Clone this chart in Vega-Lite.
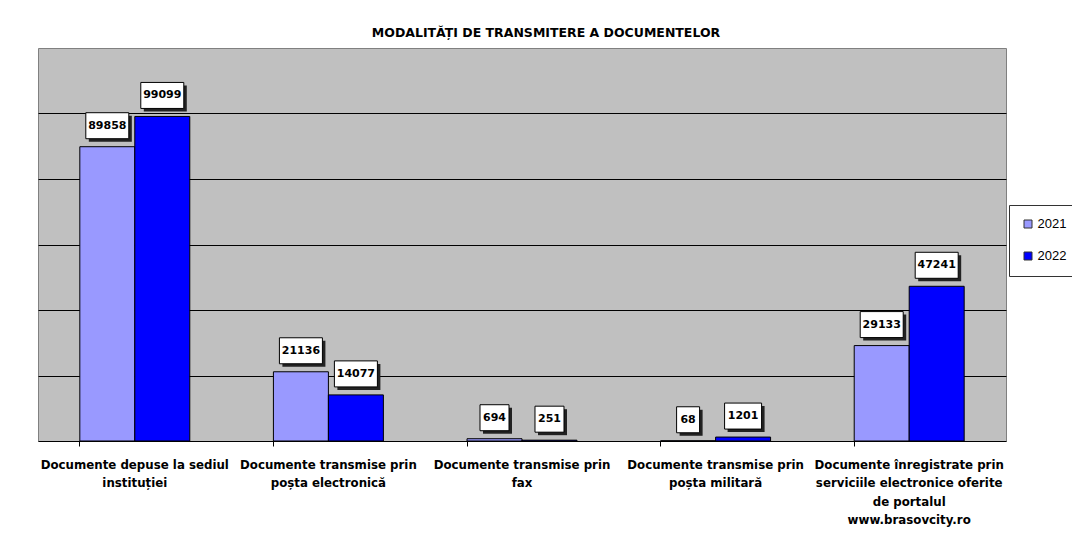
{
  "$schema": "https://vega.github.io/schema/vega-lite/v6.json",
  "width": 968,
  "height": 393,
  "autosize": {"type": "none"},
  "padding": {"left": 38, "top": 48, "right": 66, "bottom": 94},
  "background": "white",
  "title": {
    "text": "MODALITĂȚI DE TRANSMITERE A DOCUMENTELOR",
    "font": "DejaVu Sans",
    "fontSize": 12.5,
    "fontWeight": "bold",
    "color": "black",
    "anchor": "middle",
    "frame": "group",
    "dx": 24,
    "dy": 14,
    "offset": 10,
    "baseline": "bottom"
  },
  "config": {
    "view": {"fill": "#C0C0C0", "stroke": "#808080", "strokeWidth": 1},
    "font": "Liberation Sans"
  },
  "data": {
    "values": [
      {"cat": "Documente depuse la sediul|instituției", "year": "2021", "v": 89858},
      {"cat": "Documente depuse la sediul|instituției", "year": "2022", "v": 99099},
      {"cat": "Documente transmise prin|poșta electronică", "year": "2021", "v": 21136},
      {"cat": "Documente transmise prin|poșta electronică", "year": "2022", "v": 14077},
      {"cat": "Documente transmise prin|fax", "year": "2021", "v": 694},
      {"cat": "Documente transmise prin|fax", "year": "2022", "v": 251},
      {"cat": "Documente transmise prin|poșta militară", "year": "2021", "v": 68},
      {"cat": "Documente transmise prin|poșta militară", "year": "2022", "v": 1201},
      {"cat": "Documente înregistrate prin|serviciile electronice oferite|de portalul|www.brasovcity.ro", "year": "2021", "v": 29133},
      {"cat": "Documente înregistrate prin|serviciile electronice oferite|de portalul|www.brasovcity.ro", "year": "2022", "v": 47241}
    ]
  },
  "encoding": {
    "x": {
      "field": "cat",
      "type": "nominal",
      "sort": null,
      "scale": {"paddingInner": 0.432, "paddingOuter": 0.216},
      "axis": {
        "title": null,
        "labelAngle": 0,
        "labelExpr": "split(datum.label, '|')",
        "labelFont": "DejaVu Sans",
        "labelFontSize": 11.8,
        "labelFontWeight": "bold",
        "labelColor": "black",
        "labelLineHeight": 18.5,
        "labelPadding": 13,
        "labelLimit": 0,
        "bandPosition": 0,
        "domainColor": "black",
        "tickColor": "black",
        "tickSize": 5
      }
    },
    "xOffset": {"field": "year", "type": "nominal", "scale": {"paddingInner": 0, "paddingOuter": 0}},
    "y": {
      "field": "v",
      "type": "quantitative",
      "scale": {"domain": [0, 120000], "nice": false},
      "axis": {
        "title": null,
        "labels": false,
        "ticks": false,
        "domain": false,
        "grid": true,
        "gridColor": "black",
        "gridWidth": 1,
        "values": [20000, 40000, 60000, 80000, 100000]
      }
    }
  },
  "layer": [
    {
      "mark": {"type": "bar", "stroke": "black", "strokeWidth": 1},
      "encoding": {
        "color": {
          "field": "year",
          "type": "nominal",
          "scale": {"domain": ["2021", "2022"], "range": ["#9999FF", "#0000FF"]},
          "legend": {
            "title": null,
            "orient": "none",
            "legendX": 971,
            "legendY": 157,
            "fillColor": "white",
            "strokeColor": "#333",
            "padding": 12.5,
            "symbolType": "square",
            "symbolSize": 64,
            "symbolStrokeColor": "#333",
            "symbolStrokeWidth": 1,
            "labelFont": "Liberation Sans",
            "labelFontSize": 13,
            "labelColor": "black",
            "labelOffset": 3,
            "rowPadding": 18
          }
        }
      }
    },
    {
      "mark": {"type": "point", "size": 4, "filled": true, "fill": "#222", "stroke": null, "opacity": 1, "yOffset": -21},
      "encoding": {
        "shape": {
          "field": "v",
          "type": "nominal",
          "legend": null,
          "scale": {
            "domain": [89858, 99099, 21136, 14077, 694, 251, 68, 1201, 29133, 47241],
            "range": [
              "M-18.5,-10H24.5V16H-18.5Z",
              "M-18.5,-10H24.5V16H-18.5Z",
              "M-18.5,-10H24.5V16H-18.5Z",
              "M-18.5,-10H24.5V16H-18.5Z",
              "M-11.5,-10H17.5V16H-11.5Z",
              "M-11.5,-10H17.5V16H-11.5Z",
              "M-8.5,-10H14.5V16H-8.5Z",
              "M-15.5,-10H21.5V16H-15.5Z",
              "M-18.5,-10H24.5V16H-18.5Z",
              "M-18.5,-10H24.5V16H-18.5Z"
            ]
          }
        }
      }
    },
    {
      "mark": {"type": "point", "size": 4, "filled": true, "fill": "white", "stroke": "black", "strokeWidth": 1, "opacity": 1, "yOffset": -21},
      "encoding": {
        "shape": {
          "field": "v",
          "type": "nominal",
          "legend": null,
          "scale": {
            "domain": [89858, 99099, 21136, 14077, 694, 251, 68, 1201, 29133, 47241],
            "range": [
              "M-21.5,-13H21.5V13H-21.5Z",
              "M-21.5,-13H21.5V13H-21.5Z",
              "M-21.5,-13H21.5V13H-21.5Z",
              "M-21.5,-13H21.5V13H-21.5Z",
              "M-14.5,-13H14.5V13H-14.5Z",
              "M-14.5,-13H14.5V13H-14.5Z",
              "M-11.5,-13H11.5V13H-11.5Z",
              "M-18.5,-13H18.5V13H-18.5Z",
              "M-21.5,-13H21.5V13H-21.5Z",
              "M-21.5,-13H21.5V13H-21.5Z"
            ]
          }
        }
      }
    },
    {
      "mark": {"type": "text", "font": "DejaVu Sans", "fontSize": 11, "fontWeight": "bold", "color": "black", "baseline": "middle", "align": "center", "yOffset": -21},
      "encoding": {
        "text": {"field": "v", "type": "quantitative", "format": "d"}
      }
    }
  ],
  "resolve": {"scale": {"shape": "independent"}, "legend": {"shape": "independent"}}
}
